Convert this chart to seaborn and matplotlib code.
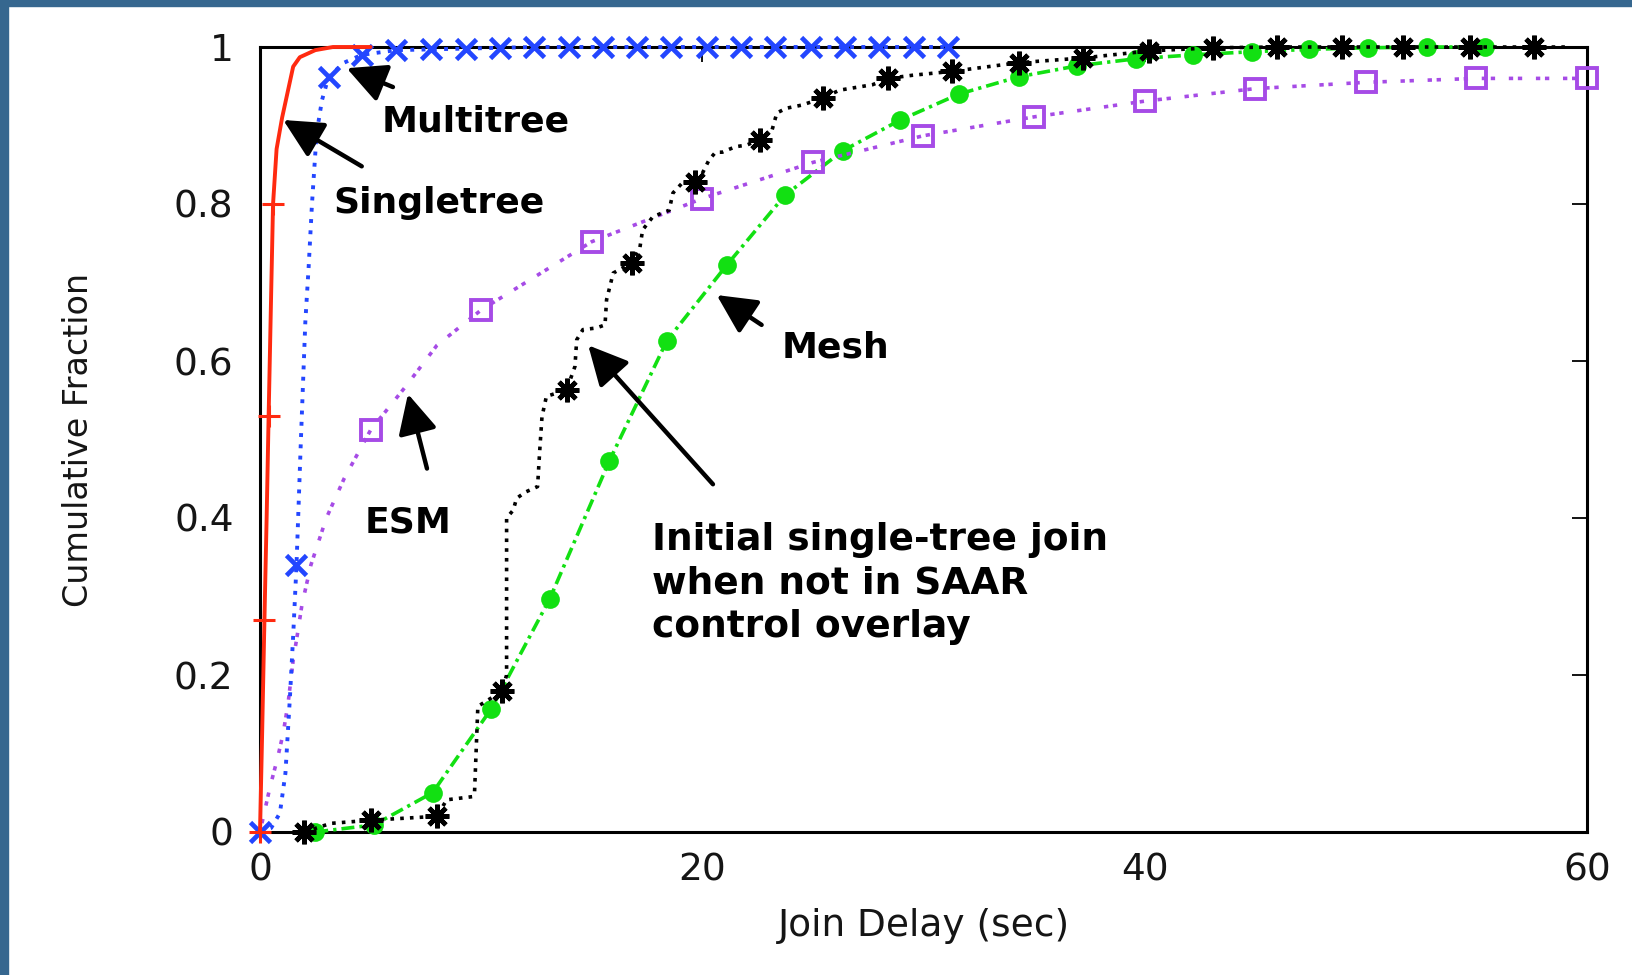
import numpy as np
import matplotlib
matplotlib.use("Agg")
import matplotlib.pyplot as plt
import seaborn as sns
from matplotlib.patches import Rectangle

# ---------------- data ----------------
single_x = [0, 0.1, 0.2, 0.3, 0.39, 0.5, 0.59, 0.75, 1.0, 1.5, 1.8, 2.5, 3.3, 5.0]
single_y = [0, 0.13, 0.27, 0.4, 0.53, 0.68, 0.8, 0.87, 0.91, 0.975, 0.987, 0.996, 1.0, 1.0]
single_mark_x = [0, 0.2, 0.39, 0.59]

multi_x = [0, 0.5, 0.9, 1.15, 1.35, 1.5, 1.65, 1.85, 2.05, 2.2, 2.35, 2.56, 2.8, 3.1,
           3.8, 4.6, 6.15, 7.75, 9.3, 10.85, 12.4, 13.95, 15.5, 17.05, 18.6, 20.2,
           21.75, 23.3, 24.9, 26.45, 28.0, 29.55, 31.1]
multi_y = [0, 0.005, 0.024, 0.075, 0.17, 0.25, 0.34, 0.5, 0.65, 0.72, 0.8, 0.89, 0.932, 0.962,
           0.98, 0.99, 0.996, 0.997, 0.998, 0.999, 1.0, 1.0, 1.0, 1.0, 1.0, 1.0,
           1.0, 1.0, 1.0, 1.0, 1.0, 1.0, 1.0]
multi_mark_x = [0, 1.65, 3.1, 4.6, 6.15, 7.75, 9.3, 10.85, 12.4, 13.95, 15.5, 17.05, 18.6,
                20.2, 21.75, 23.3, 24.9, 26.45, 28.0, 29.55, 31.1]

esm_x = [0, 0.45, 0.8, 1.05, 1.27, 1.5, 1.67, 1.9, 2.3, 3.0, 3.8, 5.0, 6.6, 8.0, 10.0,
         15.0, 20.0, 25.0, 30.0, 35.0, 40.0, 45.0, 50.0, 55.0, 60.0]
esm_y = [0, 0.057, 0.095, 0.126, 0.164, 0.219, 0.248, 0.29, 0.34, 0.40, 0.45, 0.512, 0.568,
         0.62, 0.665, 0.752, 0.807, 0.853, 0.887, 0.911, 0.931, 0.947, 0.955, 0.96, 0.96]
esm_mark_x = [5.0, 10.0, 15.0, 20.0, 25.0, 30.0, 35.0, 40.0, 45.0, 50.0, 55.0, 60.0]

mesh_x = [2.5, 5.15, 7.8, 10.46, 13.1, 15.8, 18.4, 21.1, 23.73, 26.36, 28.95, 31.6, 34.3,
          36.95, 39.6, 42.2, 44.85, 47.45, 50.1, 52.75, 55.4]
mesh_y = [0.0, 0.009, 0.05, 0.157, 0.297, 0.473, 0.626, 0.722, 0.811, 0.868, 0.907, 0.94,
          0.962, 0.976, 0.985, 0.99, 0.994, 0.997, 0.999, 1.0, 1.0]

init_x = [2.0, 3.2, 5.0, 8.0, 8.44, 9.6, 9.7, 9.85, 10.93, 11.15, 11.15, 11.45, 11.6, 12.0,
          12.55, 12.65, 12.75, 12.95, 13.86, 14.24, 14.32, 14.6, 15.2, 15.6, 15.67, 15.97,
          16.8, 17.18, 17.3, 17.77, 18.5, 18.67, 19.1, 19.66, 20.0, 20.3, 20.6, 20.9, 21.5,
          22.0, 22.6, 23.15, 23.37, 23.8, 24.5, 25.45, 26.2, 27.7, 28.4, 29.5, 31.3, 34.3,
          37.2, 40.2, 43.1, 46.0, 48.9, 51.7, 54.7, 57.6, 59.0]
init_y = [0.0, 0.011, 0.015, 0.02, 0.041, 0.045, 0.05, 0.16, 0.179, 0.2, 0.4, 0.41, 0.425,
          0.433, 0.44, 0.487, 0.529, 0.555, 0.563, 0.593, 0.627, 0.64, 0.642, 0.646, 0.678,
          0.712, 0.725, 0.745, 0.767, 0.784, 0.792, 0.814, 0.827, 0.828, 0.839, 0.856, 0.866,
          0.866, 0.873, 0.875, 0.882, 0.894, 0.916, 0.922, 0.926, 0.935, 0.945, 0.952, 0.96,
          0.964, 0.969, 0.98, 0.986, 0.995, 0.999, 1.0, 1.0, 1.0, 1.0, 1.0, 1.0]
init_mark_x = [2.0, 5.0, 8.0, 10.93, 13.86, 16.8, 19.66, 22.6, 25.45, 28.4, 31.3, 34.3, 37.2,
               40.2, 43.1, 46.0, 48.9, 51.7, 54.7, 57.6]

x_ticks = [0, 20, 40, 60]
x_tick_labels = ["0", "20", "40", "60"]
y_ticks = [0, 0.2, 0.4, 0.6, 0.8, 1.0]
y_tick_labels = ["0", "0.2", "0.4", "0.6", "0.8", "1"]

x_label = "Join Delay (sec)"
y_label = "Cumulative Fraction"

# ---------------- styling ----------------
sns.set_style("white")
plt.rcParams["font.family"] = ["DejaVu Sans"]

W, H = 1633, 975
fig = plt.figure(figsize=(W / 100, H / 100), dpi=100)
fig.patch.set_facecolor("white")

# slide border (left and top)
border = "#36678f"
fig.patches.append(Rectangle((0, 0), 8 / W, 1, transform=fig.transFigure,
                             color=border, zorder=0))
fig.patches.append(Rectangle((0, 1 - 6 / H), 1, 6 / H, transform=fig.transFigure,
                             color=border, zorder=0))

ax = fig.add_axes([260 / W, 1 - 832 / H, (1587 - 260) / W, (832 - 47) / H])
ax.set_facecolor("white")


def marks(xs, mark_xs):
    return [i for i, v in enumerate(xs) if any(abs(v - m) < 1e-9 for m in mark_xs)]


lw = 2.6
RED, BLUE, PURPLE, GREEN, BLACK = "#ff2a10", "#2346ff", "#a64be6", "#12e012", "#000000"

# Mesh (green, dash-dot, filled circles)
sns.lineplot(x=mesh_x, y=mesh_y, ax=ax, sort=False, estimator=None, color=GREEN,
             linewidth=lw, linestyle=(0, (3.6, 1.4, 0.9, 1.4)), marker="o", markersize=13.5,
             markeredgecolor=GREEN, markerfacecolor=GREEN, markeredgewidth=0,
             clip_on=False, zorder=3)

# ESM (purple, paired dashes, open squares)
sns.lineplot(x=esm_x, y=esm_y, ax=ax, sort=False, estimator=None, color=PURPLE,
             linewidth=lw, linestyle=(0, (1.2, 1.3, 1.2, 3.8)), marker="s", markersize=15,
             markevery=marks(esm_x, esm_mark_x), markeredgecolor=PURPLE,
             markerfacecolor="none", markeredgewidth=2.8, clip_on=False, zorder=3)

# Initial single-tree join (black, dotted, asterisks)
sns.lineplot(x=init_x, y=init_y, ax=ax, sort=False, estimator=None, color=BLACK,
             linewidth=lw, linestyle=(0, (1.0, 1.7)), marker=(8, 2, 0), markersize=17,
             markevery=marks(init_x, init_mark_x), markeredgecolor=BLACK,
             markeredgewidth=3.4, clip_on=False, zorder=4)

# Multitree (blue, dotted, x)
sns.lineplot(x=multi_x, y=multi_y, ax=ax, sort=False, estimator=None, color=BLUE,
             linewidth=lw + 0.2, linestyle=(0, (1, 1.9)), marker="x", markersize=14,
             markevery=marks(multi_x, multi_mark_x), markeredgecolor=BLUE,
             markeredgewidth=3.4, clip_on=False, zorder=5)

# Singletree (red, solid, +)
sns.lineplot(x=single_x, y=single_y, ax=ax, sort=False, estimator=None, color=RED,
             linewidth=lw + 0.2, linestyle="-", marker="+", markersize=16,
             markevery=marks(single_x, single_mark_x), markeredgecolor=RED,
             markeredgewidth=2.2, clip_on=False, zorder=6)

# ---------------- axes ----------------
ax.set_xlim(0, 60)
ax.set_ylim(0, 1)
ax.set_xticks(x_ticks)
ax.set_xticklabels(x_tick_labels)
ax.set_yticks(y_ticks)
ax.set_yticklabels(y_tick_labels)
for s in ax.spines.values():
    s.set_visible(True)
    s.set_color("black")
    s.set_linewidth(2.2)
    s.set_zorder(2.5)
ax.tick_params(axis="both", which="major", direction="in", length=11, width=1.3,
               top=True, right=True, labelsize=27, colors="black")
ax.tick_params(axis="y", pad=19)
ax.tick_params(axis="x", pad=15)
for lab in ax.get_xticklabels() + ax.get_yticklabels():
    lab.set_color("#151515")

ax.set_xlabel(x_label, fontsize=27, color="#151515")
ax.set_ylabel(y_label, fontsize=24, color="#151515")
ax.xaxis.set_label_coords(0.5, -0.097)
ax.yaxis.set_label_coords(-0.124, 0.5)

# ---------------- annotations ----------------
afont = dict(fontsize=26, fontweight="bold", family=["DejaVu Sans"], color="black")
arrow = dict(arrowstyle="-|>,head_length=1.2,head_width=0.6", color="black", lw=3.2,
             shrinkA=0, shrinkB=0, mutation_scale=20)

ann = [
    ("Multitree", (5.5, 0.892), (3.92, 0.973), (6.01, 0.949)),
    ("Singletree", (3.3, 0.789), (1.05, 0.907), (4.6, 0.848)),
    ("ESM", (4.72, 0.381), (6.69, 0.558), (7.55, 0.463)),
    ("Mesh", (23.6, 0.605), (20.65, 0.684), (22.68, 0.646)),
]
for text, tpos, head, tail in ann:
    ax.text(tpos[0], tpos[1], text, ha="left", va="baseline", zorder=10, **afont)
    ax.annotate("", xy=head, xytext=tail, arrowprops=arrow, zorder=10)

init_lines = ["Initial single-tree join", "when not in SAAR", "control overlay"]
for line, yb in zip(init_lines, [0.359, 0.304, 0.249]):
    ax.text(17.71, yb, line, ha="left", va="baseline", zorder=10,
            **{**afont, "fontsize": 27})
ax.annotate("", xy=(14.84, 0.620), xytext=(20.48, 0.443), arrowprops=arrow, zorder=10)

fig.savefig("out.png", dpi=100, facecolor="white")
